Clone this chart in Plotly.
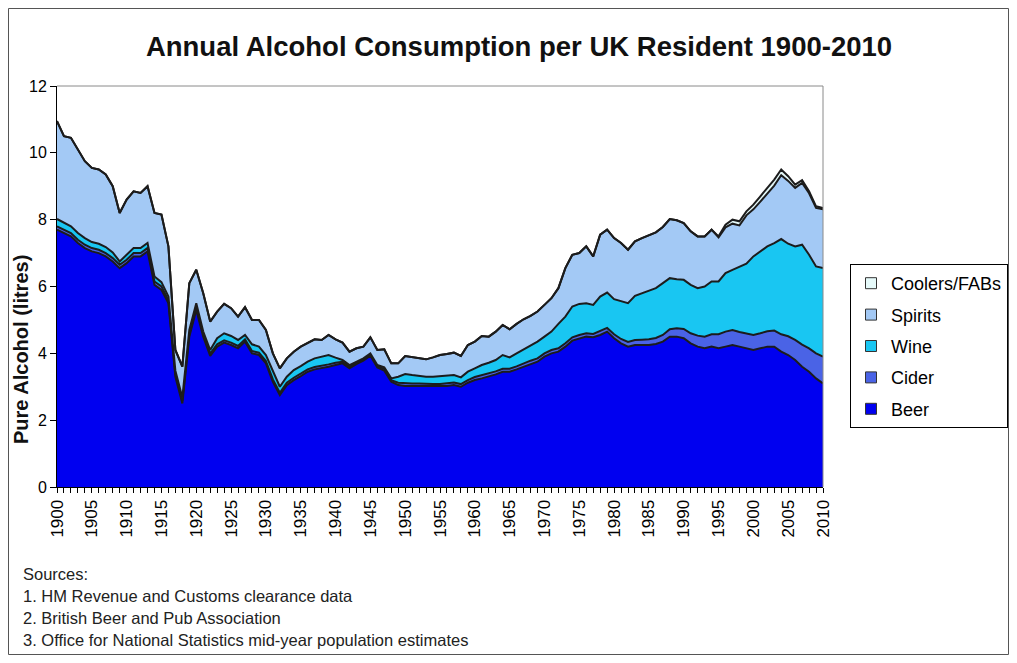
import plotly.graph_objects as go

years = list(range(1900, 2011))

beer = [
    7.7, 7.6, 7.5, 7.3, 7.15, 7.05, 7.0, 6.9, 6.75, 6.55,
    6.7, 6.9, 6.9, 7.05, 6.05, 5.9, 5.5, 3.3, 2.5, 4.5,
    5.3, 4.5, 3.92, 4.2, 4.32, 4.25, 4.15, 4.35, 4.0, 3.95,
    3.7, 3.15, 2.75, 3.05, 3.2, 3.32, 3.45, 3.52, 3.55, 3.6,
    3.65, 3.7, 3.55, 3.68, 3.78, 3.93, 3.58, 3.48, 3.15, 3.05,
    3.02, 3.02, 3.02, 3.0, 3.0, 3.0, 3.02, 3.05, 3.0, 3.12,
    3.2, 3.25, 3.3, 3.37, 3.45, 3.45, 3.52, 3.6, 3.68, 3.75,
    3.9, 4.0, 4.05, 4.2, 4.38, 4.45, 4.5, 4.48, 4.55, 4.65,
    4.45, 4.3, 4.2, 4.25, 4.25, 4.25, 4.28, 4.35, 4.5, 4.5,
    4.45, 4.3, 4.2, 4.15, 4.2, 4.15, 4.2, 4.25, 4.2, 4.15,
    4.1, 4.15, 4.2, 4.2, 4.05, 3.95, 3.8, 3.6, 3.45, 3.25,
    3.1,
]

cider = [
    0.1, 0.1, 0.1, 0.1, 0.1, 0.1, 0.1, 0.1, 0.1, 0.1,
    0.1, 0.1, 0.1, 0.1, 0.1, 0.1, 0.08, 0.08, 0.08, 0.08,
    0.08, 0.07, 0.07, 0.07, 0.07, 0.07, 0.07, 0.07, 0.07, 0.07,
    0.07, 0.07, 0.07, 0.07, 0.07, 0.07, 0.07, 0.07, 0.07, 0.07,
    0.07, 0.05, 0.05, 0.04, 0.04, 0.04, 0.04, 0.05, 0.05, 0.07,
    0.08, 0.08, 0.08, 0.08, 0.08, 0.08, 0.08, 0.08, 0.08, 0.08,
    0.09, 0.09, 0.09, 0.09, 0.09, 0.09, 0.09, 0.1, 0.1, 0.1,
    0.1, 0.1, 0.1, 0.1, 0.1, 0.1, 0.1, 0.1, 0.11, 0.11,
    0.12, 0.13, 0.14, 0.15, 0.16, 0.17, 0.18, 0.2, 0.22, 0.25,
    0.28, 0.3, 0.33, 0.35, 0.37, 0.42, 0.45, 0.45, 0.44, 0.44,
    0.45, 0.45, 0.46, 0.48, 0.52, 0.56, 0.6, 0.66, 0.7, 0.75,
    0.8,
]

wine = [
    0.22, 0.22, 0.2, 0.2, 0.2, 0.18, 0.18, 0.18, 0.17, 0.1,
    0.15, 0.15, 0.15, 0.15, 0.15, 0.13, 0.12, 0.1, 0.1, 0.12,
    0.12, 0.08, 0.11, 0.18, 0.21, 0.2, 0.18, 0.13, 0.2, 0.18,
    0.18, 0.23, 0.18, 0.18, 0.23, 0.23, 0.23, 0.26, 0.28, 0.28,
    0.15, 0.05, 0.05, 0.03, 0.03, 0.03, 0.03, 0.05, 0.05, 0.18,
    0.28, 0.25, 0.22, 0.22, 0.22, 0.24, 0.22, 0.22, 0.2, 0.25,
    0.26, 0.31, 0.33, 0.34, 0.41, 0.34, 0.39, 0.42, 0.44, 0.5,
    0.5, 0.55, 0.73, 0.8, 0.92, 0.93, 0.9, 0.87, 1.04, 1.06,
    1.05, 1.12, 1.16, 1.32, 1.39, 1.46, 1.49, 1.55, 1.53, 1.47,
    1.47, 1.45, 1.42, 1.5, 1.58, 1.58, 1.75, 1.8, 1.96, 2.09,
    2.35, 2.45, 2.54, 2.62, 2.85, 2.77, 2.8, 2.99, 2.8, 2.6,
    2.65,
]

spirits = [
    2.93, 2.58, 2.65, 2.5, 2.3, 2.22, 2.22, 2.17, 1.98, 1.45,
    1.65, 1.7, 1.65, 1.7, 1.9, 2.02, 1.5, 0.62, 0.92, 1.4,
    1.0, 1.15, 0.85, 0.8, 0.88, 0.83, 0.7, 0.83, 0.73, 0.8,
    0.75, 0.55, 0.55, 0.55, 0.55, 0.58, 0.57, 0.57, 0.5, 0.6,
    0.55, 0.52, 0.4, 0.4, 0.35, 0.48, 0.45, 0.54, 0.45, 0.4,
    0.54, 0.53, 0.53, 0.52, 0.58, 0.63, 0.66, 0.67, 0.64, 0.8,
    0.8, 0.87, 0.78, 0.85, 0.9, 0.84, 0.88, 0.9, 0.9, 0.9,
    0.95, 1.0, 1.07, 1.45, 1.55, 1.52, 1.7, 1.45, 1.85, 1.88,
    1.83, 1.75, 1.6, 1.63, 1.65, 1.66, 1.67, 1.68, 1.77, 1.76,
    1.7, 1.6, 1.55, 1.5, 1.55, 1.32, 1.37, 1.38, 1.23, 1.45,
    1.41, 1.49, 1.57, 1.72, 1.91, 1.88, 1.75, 1.85, 1.84, 1.75,
    1.76,
]

coolers = [
    0, 0, 0, 0, 0, 0, 0, 0, 0, 0,
    0, 0, 0, 0, 0, 0, 0, 0, 0, 0,
    0, 0, 0, 0, 0, 0, 0, 0, 0, 0,
    0, 0, 0, 0, 0, 0, 0, 0, 0, 0,
    0, 0, 0, 0, 0, 0, 0, 0, 0, 0,
    0, 0, 0, 0, 0, 0, 0, 0, 0, 0,
    0, 0, 0, 0, 0, 0, 0, 0, 0, 0,
    0, 0, 0, 0, 0, 0, 0, 0, 0, 0,
    0, 0, 0, 0, 0, 0, 0, 0, 0, 0,
    0, 0, 0, 0, 0, 0.03, 0.08, 0.12, 0.12, 0.12,
    0.14, 0.16, 0.18, 0.18, 0.17, 0.14, 0.1, 0.08, 0.06, 0.05,
    0.04,
]

series_names = ["Beer", "Cider", "Wine", "Spirits", "Coolers/FABs"]
series_vals = [beer, cider, wine, spirits, coolers]
colors = ["#0000F0", "#4A63E6", "#19C6F2", "#A3C9F5", "#E6FAFA"]

tick_text = [str(y) if y % 5 == 0 else "" for y in years]

source_lines = [
    "Sources:",
    "1. HM Revenue and Customs clearance data",
    "2. British Beer and Pub Association",
    "3. Office for National Statistics mid-year population estimates",
]

FONT = "Arial, 'Liberation Sans', sans-serif"
LINE = "#1c1c1c"

# the page body adds an 8px margin; size the figure so no scrollbars appear
OFF = 8
FW, FH = 1017 - 2 * OFF, 663 - 2 * OFF

fig = go.Figure()
for name, vals, col in zip(series_names, series_vals, colors):
    fig.add_trace(go.Scatter(
        x=years, y=vals, name=name, stackgroup="one", mode="lines",
        line=dict(color=LINE, width=2), fillcolor=col, showlegend=False,
        hoverinfo="x+y+name",
    ))

# legend entries (square swatches), top to bottom
for name, col in zip(series_names[::-1], colors[::-1]):
    fig.add_trace(go.Scatter(
        x=[None], y=[None], name=name, mode="markers", legendgroup=name,
        marker=dict(symbol="square", size=11, color=col,
                    line=dict(color="#333333", width=1)),
        showlegend=True,
    ))

# plot area in page px: left 57, right 823, top 86, bottom 487
L, R, T, B = 57 - OFF, 823 - OFF, 86 - OFF, 487 - OFF
W, H = R - L, B - T

def px(x):  # page px -> paper
    return (x - OFF - L) / W

def py(y):
    return (B - (y - OFF)) / H

fig.update_layout(
    width=FW, height=FH, autosize=False,
    margin=dict(l=L, r=FW - R, t=T, b=FH - B, autoexpand=False),
    paper_bgcolor="white", plot_bgcolor="white",
    font=dict(family=FONT, color="black"),
    title=dict(text="<b>Annual Alcohol Consumption per UK Resident 1900-2010</b>",
               x=(519 - OFF) / FW, xanchor="center", y=1 - (46 - OFF) / FH,
               yanchor="middle",
               font=dict(size=27.5, family=FONT, color="#111111")),
    showlegend=True,
    legend=dict(x=px(850), y=py(264), xanchor="left", yanchor="top",
                traceorder="grouped", tracegroupgap=5,
                bordercolor="black", borderwidth=1, bgcolor="white",
                font=dict(size=18, family=FONT), itemwidth=30),
    xaxis=dict(range=[1900, 2010], tickmode="array", tickvals=years,
               ticktext=tick_text, tickangle=-90, ticks="outside", ticklen=5,
               tickcolor="black", showline=True, linecolor="black", linewidth=1,
               showgrid=False, zeroline=False, tickfont=dict(size=17, family=FONT)),
    yaxis=dict(range=[0, 12], tick0=0, dtick=2, ticks="outside", ticklen=6,
               tickcolor="black", showline=True, linecolor="black", linewidth=1,
               showgrid=False, zeroline=False, tickfont=dict(size=16, family=FONT)),
)

# plot-area frame (top and right, grey)
fig.add_shape(type="line", xref="paper", yref="paper", x0=0, x1=1, y0=1, y1=1,
              line=dict(color="#8a8a8a", width=1))
fig.add_shape(type="line", xref="paper", yref="paper", x0=1, x1=1, y0=0, y1=1,
              line=dict(color="#8a8a8a", width=1))
# outer chart border (at figure edges)
fig.add_shape(type="rect", xref="paper", yref="paper",
              x0=px(OFF + 0.5), x1=px(OFF + FW - 0.5),
              y0=py(OFF + FH - 0.5), y1=py(OFF + 0.5),
              line=dict(color="#555555", width=1))

fig.add_annotation(text="<b>Pure Alcohol (litres)</b>", xref="paper", yref="paper",
                   x=px(21), y=py(350), textangle=-90, showarrow=False,
                   xanchor="center", yanchor="middle",
                   font=dict(size=20, family=FONT, color="#111111"))

for i, line in enumerate(source_lines):
    fig.add_annotation(text=line, xref="paper", yref="paper",
                       x=px(21), y=py(574 + i * 22), xanchor="left", yanchor="middle",
                       showarrow=False, font=dict(size=16.5, family=FONT, color="#222222"))

fig.write_html("out.html")
